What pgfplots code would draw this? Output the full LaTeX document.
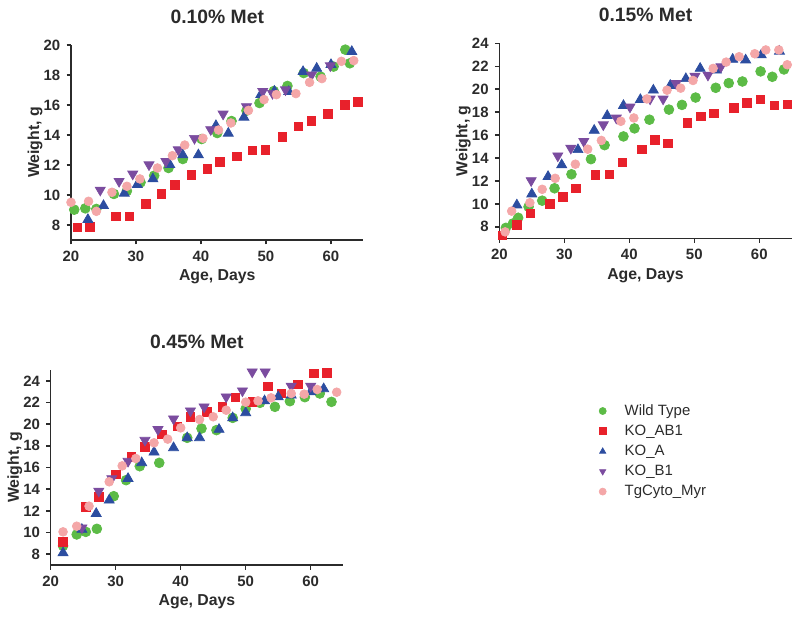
\documentclass[border=0pt]{standalone}
\usepackage{pgfplots}
\pgfplotsset{compat=1.18}
\usepackage{fontspec}
\setmainfont{Liberation Sans}

\definecolor{wtgreen}{HTML}{5CBB46}
\definecolor{abred}{HTML}{E8212B}
\definecolor{kablue}{HTML}{2C4DA0}
\definecolor{kbpurple}{HTML}{7B4C9F}
\definecolor{tgpink}{HTML}{F4A7A8}
\definecolor{axisgray}{HTML}{2B2B2B}

\pgfplotsset{
  metpanel/.style={
    scale only axis, width=5.85cm, height=3.9cm,
    axis lines=left,
    axis line style={-, line width=0.8pt, draw=axisgray},
    tick align=outside, major tick length=0.09cm,
    tick style={line width=0.8pt, draw=axisgray},
    xmin=20, xmax=65, xtick={20,30,...,60},
    ymin=7, ytick distance=2,
    clip=false,
    /pgf/number format/assume math mode=true,
    ticklabel style={font=\bfseries\fontsize{8.5}{10}\selectfont, text=axisgray},
    xlabel={Age, Days}, ylabel={Weight, g},
    label style={font=\bfseries\fontsize{9}{11}\selectfont, text=axisgray},
    xlabel style={at={(0.5,0)}, anchor=center, yshift=-0.74cm},
    ylabel style={at={(0,0.5)}, anchor=center, yshift=0.72cm},
    title style={at={(0.5,1)}, anchor=center, yshift=0.35cm,
      font=\bfseries\fontsize{11}{13}\selectfont, text=axisgray},
  },
  wt/.style={only marks, mark=*, mark size=2.8pt, color=wtgreen, mark options={draw=none, fill=wtgreen}},
  ab/.style={only marks, mark=square*, mark size=2.4pt, color=abred, mark options={draw=none, fill=abred}},
  ka/.style={only marks, mark=triangle*, mark size=3.3pt, color=kablue, mark options={draw=none, fill=kablue}},
  kb/.style={only marks, mark=triangle*, mark size=3.3pt, color=kbpurple, mark options={draw=none, fill=kbpurple, rotate=180}},
  tg/.style={only marks, mark=*, mark size=2.5pt, color=tgpink, mark options={draw=none, fill=tgpink}},
}

\begin{document}
\begin{tikzpicture}
\path[use as bounding box] (0,0) rectangle (16cm,12.36cm);

% ---- 0.10% Met
\begin{axis}[metpanel, at={(1.42cm,7.56cm)}, anchor=south west,
  ymax=20, title={0.10\% Met}]
\addplot[wt] coordinates {
 (20.5,9.02) (22.2,9.11) (23.9,9.07) (26.6,10.07) (28.6,10.27) (30.7,10.84)
 (32.8,11.29) (35.0,11.80) (37.2,12.40) (40.1,13.73) (42.5,14.13) (44.7,14.93)
 (47.0,15.62) (49.0,16.13) (51.2,16.93) (53.3,17.27) (55.8,18.13) (58.4,17.89)
 (60.4,18.56) (62.2,19.69) (62.9,18.78)};
\addplot[ab] coordinates {
 (21.0,7.84) (22.9,7.89) (26.9,8.58) (29.0,8.58) (31.5,9.42) (33.9,10.07)
 (36.0,10.69) (38.5,11.33) (41.0,11.73) (42.9,12.22) (45.5,12.58) (47.9,12.96)
 (49.9,13.02) (52.5,13.89) (55.0,14.56) (57.0,14.93) (59.5,15.42) (62.1,16.00)
 (64.1,16.22)};
\addplot[ka] coordinates {
 (22.6,8.36) (25.0,9.29) (28.2,10.11) (30.2,10.69) (32.6,11.07) (35.2,12.02)
 (37.2,12.67) (39.6,12.67) (42.3,14.62) (44.2,14.11) (46.6,15.18) (49.2,16.69)
 (51.3,16.91) (53.5,16.89) (55.7,18.22) (57.8,18.44) (60.0,18.69) (63.2,19.56)};
\addplot[kb] coordinates {
 (24.5,10.33) (27.4,10.91) (29.5,11.40) (32.0,12.02) (34.6,12.24) (36.5,13.02)
 (39.0,13.78) (41.5,14.36) (43.4,15.40) (47.0,15.89) (49.5,16.91) (51.0,16.78)
 (53.0,17.02) (57.0,18.00) (59.9,18.62)};
\addplot[tg] coordinates {
 (20.0,9.51) (22.7,9.58) (23.9,8.91) (26.3,10.18) (28.6,10.58) (30.6,11.07)
 (33.3,11.80) (35.6,12.62) (37.5,13.33) (40.3,13.78) (42.7,14.33) (44.6,14.80)
 (47.3,15.64) (49.7,16.36) (51.6,16.69) (54.6,16.76) (56.7,17.51) (58.6,17.76)
 (61.6,18.91) (63.5,18.96)};
\end{axis}

% ---- 0.15% Met
\begin{axis}[metpanel, at={(9.986cm,7.594cm)}, anchor=south west,
  ymax=24, title={0.15\% Met}]
\addplot[wt] coordinates {
 (21.0,7.91) (22.1,8.29) (22.9,8.79) (24.5,9.75) (26.6,10.28) (28.5,11.36)
 (31.1,12.58) (34.1,13.90) (36.2,15.12) (39.1,15.88) (40.8,16.58) (43.1,17.34)
 (46.1,18.22) (48.1,18.63) (50.2,19.27) (53.3,20.12) (55.3,20.53) (57.4,20.67)
 (60.2,21.55) (62.0,21.08) (63.8,21.72)};
\addplot[ab] coordinates {
 (20.5,7.27) (22.7,8.17) (24.8,9.17) (27.8,9.99) (29.8,10.63) (31.8,11.36)
 (34.8,12.53) (36.9,12.58) (38.9,13.61) (41.9,14.77) (43.9,15.59) (45.9,15.30)
 (48.9,17.05) (51.0,17.61) (53.0,17.90) (56.1,18.39) (58.1,18.80) (60.2,19.09)
 (62.3,18.57) (64.3,18.69)};
\addplot[ka] coordinates {
 (22.7,9.90) (25.0,10.86) (27.5,12.38) (29.6,13.40) (32.1,14.72) (34.6,16.41)
 (36.6,17.69) (39.1,18.57) (41.7,19.09) (43.7,19.91) (46.3,20.32) (48.7,20.91)
 (50.9,21.81) (53.4,21.66) (55.9,22.60) (57.9,22.54) (60.3,22.98) (63.1,23.30)};
\addplot[kb] coordinates {
 (24.9,12.03) (29.0,14.19) (31.0,14.86) (33.0,15.45) (36.0,16.90) (38.0,17.49)
 (40.1,18.45) (43.2,19.15) (45.2,19.15) (47.2,20.50) (50.1,21.14) (52.1,21.23)
 (54.1,21.96)};
\addplot[tg] coordinates {
 (20.9,7.56) (21.9,9.37) (24.7,10.10) (26.6,11.27) (28.6,12.23) (31.7,13.46)
 (33.6,14.77) (35.7,15.53) (38.7,17.20) (40.7,17.49) (42.7,19.15) (45.8,19.91)
 (47.9,20.09) (49.8,20.76) (52.9,21.81) (54.9,22.36) (56.9,22.83) (59.3,23.09)
 (61.0,23.42) (63.0,23.42) (64.3,22.13)};
\end{axis}

% ---- 0.45% Met
\begin{axis}[metpanel, at={(1.014cm,1.06cm)}, anchor=south west,
  ymax=25, ytick={8,10,...,24}, title={0.45\% Met},
  legend style={at={(1.874,0.844)}, anchor=north west, draw=none, fill=none,
    inner sep=0pt, font=\fontsize{8.5}{10}\selectfont, text=axisgray,
    /tikz/every odd column/.append style={column sep=0.3cm}},
  legend image post style={mark size=2pt},
  legend cell align=left]
\addplot[wt] coordinates {
 (21.9,8.77) (24.0,9.82) (25.4,10.06) (27.1,10.34) (29.7,13.35) (31.6,14.83)
 (33.7,16.12) (36.7,16.43) (41.0,18.74) (43.2,19.60) (45.5,19.45) (48.0,20.58)
 (50.0,21.42) (52.2,21.97) (54.5,21.60) (56.8,22.12) (59.1,22.49) (61.4,22.83)
 (63.2,22.06)};
\addplot[ab] coordinates {
 (21.9,9.14) (25.4,12.37) (27.4,13.29) (30.0,15.38) (32.4,16.98) (34.5,17.91)
 (37.1,19.08) (39.5,19.82) (41.5,20.68) (44.0,21.14) (46.4,21.60) (48.4,22.46)
 (51.0,22.06) (53.4,23.51) (55.5,22.83) (58.0,23.66) (60.5,24.68) (62.5,24.74)};
\addplot[ka] coordinates {
 (21.9,8.12) (24.8,10.28) (27.0,11.75) (29.0,12.98) (31.9,14.98) (34.0,16.43)
 (35.9,17.42) (38.9,17.82) (41.0,18.74) (42.9,18.74) (45.9,19.51) (48.0,20.58)
 (50.0,21.05) (52.9,22.15) (55.0,22.52) (57.0,22.68) (60.0,22.98) (62.0,23.26)};
\addplot[kb] coordinates {
 (24.8,10.43) (27.4,13.82) (29.4,14.98) (31.9,16.58) (34.5,18.52) (36.5,19.51)
 (38.9,20.49) (41.5,21.23) (43.6,21.60) (47.0,22.52) (49.5,23.08) (51.0,24.83)
 (53.0,24.83) (57.0,23.51) (60.0,23.51)};
\addplot[tg] coordinates {
 (21.9,10.06) (24.0,10.58) (25.9,12.43) (29.0,14.68) (31.0,16.15) (33.1,16.83)
 (35.9,18.28) (38.0,18.62) (40.0,19.66) (42.9,20.43) (45.0,20.68) (47.0,21.29)
 (50.0,22.03) (51.9,22.15) (53.9,22.43) (57.0,22.83) (59.0,22.77) (61.0,23.20)
 (64.0,22.95)};
\legend{Wild Type,KO\_AB1,KO\_A,KO\_B1,TgCyto\_Myr}
\end{axis}
\end{tikzpicture}
\end{document}
